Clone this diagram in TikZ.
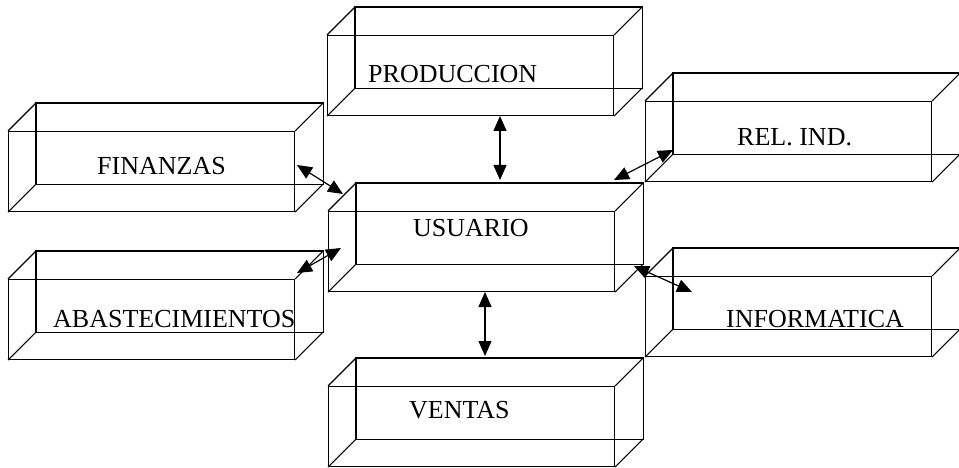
\documentclass[tikz,border=0pt]{standalone}
\usepackage{fontspec}
\setmainfont{Liberation Serif}
\usetikzlibrary{arrows.meta}
\tikzset{
  frontbox/.style={draw, line width=1.1pt, minimum width=286pt, minimum height=80pt, inner sep=0pt, anchor=north west},
  edge3d/.style={line width=1.1pt},
  boxlabel/.style={anchor=base west, inner sep=0pt, font=\fontsize{26}{30}\selectfont},
  link/.style={line width=1.2pt, {Triangle[length=15pt,width=13pt]}-{Triangle[length=15pt,width=13pt]}}
}
\newcommand\cuboid[2]{%
  \draw[edge3d] ([shift={(28,-28)}]#1.south west) rectangle ([shift={(28,-28)}]#1.north east);
  \foreach \c in {north west, north east, south west, south east}
    \draw[edge3d] (#1.\c) -- ([shift={(28,-28)}]#1.\c);
}
\begin{document}
\begin{tikzpicture}[x=1pt, y=-1pt]
\useasboundingbox (0,0) rectangle (959,468);
% front faces
\node[frontbox] (prod) at (327,35) {};
\node[frontbox] (fin)  at (8,131) {};
\node[frontbox] (rel)  at (645,101) {};
\node[frontbox] (usu)  at (328,211) {};
\node[frontbox] (aba)  at (8,279) {};
\node[frontbox] (inf)  at (645,276) {};
\node[frontbox] (ven)  at (328,386) {};
\cuboid{prod}{}
\cuboid{fin}{}
\cuboid{rel}{}
\cuboid{usu}{}
\cuboid{aba}{}
\cuboid{inf}{}
\cuboid{ven}{}
% labels
\node[boxlabel] (tprod) at (368,83) {PRODUCCION};
\node[boxlabel] (tfin)  at (97,175) {FINANZAS};
\node[boxlabel] (trel)  at (737,146) {REL. IND.};
\node[boxlabel] (tusu)  at (413,236) {USUARIO};
\node[boxlabel] (taba)  at (53,327) {ABASTECIMIENTOS};
\node[boxlabel] (tinf)  at (726,327) {INFORMATICA};
\node[boxlabel] (tven)  at (409,418) {VENTAS};
% connector ends
\coordinate (p1) at (500,116); \coordinate (u1) at (500,180);
\coordinate (f1) at (297,165); \coordinate (u2) at (343,194);
\coordinate (r1) at (673,150); \coordinate (u3) at (614,180);
\coordinate (a1) at (297,273); \coordinate (u4) at (341,248);
\coordinate (i1) at (692,292); \coordinate (u5) at (634,266);
\coordinate (v1) at (485,356); \coordinate (u6) at (485,292);
\draw[link] (p1) -- (u1);
\draw[link] (f1) -- (u2);
\draw[link] (u3) -- (r1);
\draw[link] (a1) -- (u4);
\draw[link] (u5) -- (i1);
\draw[link] (u6) -- (v1);
\end{tikzpicture}
\end{document}
